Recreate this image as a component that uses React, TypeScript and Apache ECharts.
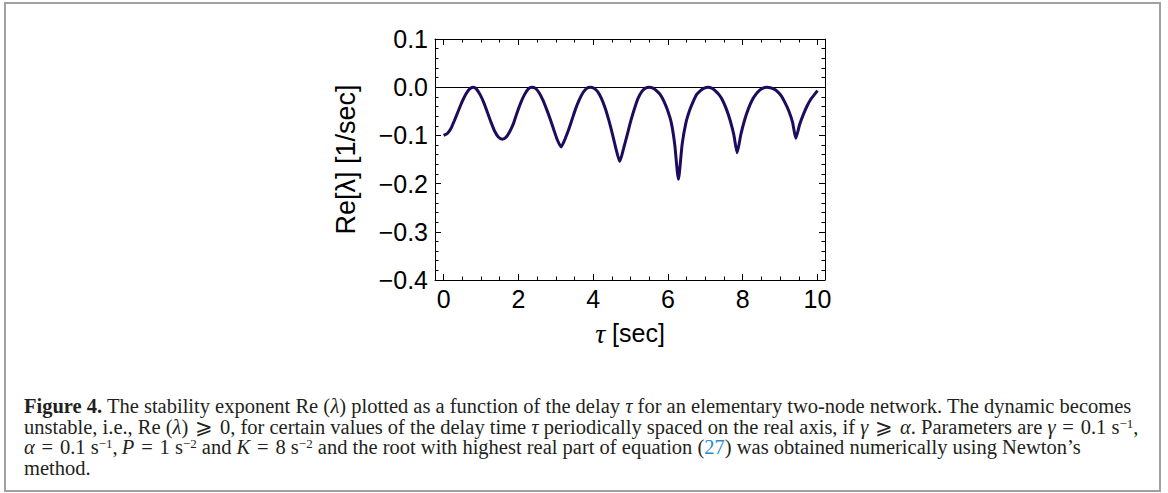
import React, { useEffect, useRef } from "react";
import * as echarts from "echarts";

// delay tau [sec]
const tau = [
  0.0, 0.1, 0.2, 0.29, 0.39, 0.49, 0.59, 0.69, 0.79,
  0.88, 0.98, 1.08, 1.18, 1.28, 1.37, 1.47, 1.57,
  1.67, 1.77, 1.87, 1.96, 2.06, 2.16, 2.26, 2.36,
  2.45, 2.55, 2.65, 2.75, 2.85, 2.95, 3.04, 3.14,
  3.24, 3.34, 3.44, 3.53, 3.63, 3.73, 3.83, 3.93,
  4.02, 4.12, 4.22, 4.32, 4.42, 4.52, 4.61, 4.71,
  4.81, 4.91, 5.01, 5.11, 5.2, 5.3, 5.4, 5.5,
  5.6, 5.69, 5.79, 5.89, 5.99, 6.09, 6.18, 6.28,
  6.38, 6.48, 6.58, 6.68, 6.77, 6.87, 6.97, 7.07,
  7.17, 7.26, 7.36, 7.46, 7.56, 7.66, 7.76, 7.85,
  7.95, 8.05, 8.15, 8.25, 8.35, 8.44, 8.54, 8.64,
  8.74, 8.84, 8.93, 9.03, 9.13, 9.23, 9.33, 9.42,
  9.52, 9.62, 9.72, 9.82, 9.92, 10.0,
];

// Re[lambda] [1/sec]
const reLambda = [
  -0.1, -0.096, -0.085, -0.069, -0.05, -0.031, -0.015, -0.004, 0.0,
  -0.004, -0.016, -0.033, -0.054, -0.075, -0.092, -0.104, -0.108,
  -0.104, -0.092, -0.075, -0.054, -0.033, -0.016, -0.004, 0.0,
  -0.002, -0.011, -0.026, -0.045, -0.066, -0.089, -0.109, -0.124,
  -0.109, -0.089, -0.066, -0.045, -0.026, -0.011, -0.002, 0.0,
  -0.002, -0.009, -0.023, -0.043, -0.069, -0.099, -0.128, -0.154,
  -0.128, -0.099, -0.069, -0.043, -0.023, -0.009, -0.002, 0.0,
  -0.002, -0.007, -0.015, -0.029, -0.048, -0.074, -0.118, -0.191,
  -0.118, -0.074, -0.048, -0.029, -0.015, -0.007, -0.002, 0.0,
  -0.002, -0.007, -0.015, -0.027, -0.045, -0.068, -0.098, -0.136,
  -0.098, -0.068, -0.045, -0.027, -0.015, -0.007, -0.002, 0.0,
  -0.001, -0.004, -0.009, -0.018, -0.032, -0.049, -0.072, -0.106,
  -0.078, -0.057, -0.039, -0.025, -0.015, -0.007,
];

const xRange = [-0.23, 10.2];
const yRange = [-0.4, 0.1];
const xTicks = [0, 2, 4, 6, 8, 10];
const xTickLabels = ["0", "2", "4", "6", "8", "10"];
const xMinorTicks = [
  0, 0.5, 1, 1.5, 2, 2.5, 3, 3.5, 4, 4.5, 5, 5.5, 6, 6.5, 7, 7.5, 8, 8.5, 9,
  9.5, 10,
];
const yTicks = [-0.4, -0.3, -0.2, -0.1, 0, 0.1];
const yTickLabels = ["\u22120.4", "\u22120.3", "\u22120.2", "\u22120.1", "0.0", "0.1"];
const yMinorTicks = [
  -0.4, -0.38, -0.36, -0.34, -0.32, -0.3, -0.28, -0.26, -0.24, -0.22, -0.2,
  -0.18, -0.16, -0.14, -0.12, -0.1, -0.08, -0.06, -0.04, -0.02, 0, 0.02, 0.04,
  0.06, 0.08, 0.1,
];
const zeroLine = [0];

const xTitle = "{t|\u03c4}{s| [sec]}";
const yTitle = "Re[\u03bb] [1/sec]";

const captionLines = [
  "{b|Figure 4.} The stability exponent Re ({i|\u03bb}) plotted as a function of the delay {i|\u03c4} for an elementary two-node network. The dynamic becomes",
  "unstable, i.e., Re ({i|\u03bb})\u2004\u2a7e\u20040, for certain values of the delay time {i|\u03c4} periodically spaced on the real axis, if {i|\u03b3}\u2004\u2a7e\u2004{i|\u03b1}. Parameters are {i|\u03b3}\u2004=\u20040.1 s{sup|\u22121},",
  "{i|\u03b1}\u2004=\u20040.1 s{sup|\u22121},\u2009{i|P}\u2004=\u20041 s{sup|\u22122} and {i|K}\u2004=\u20048 s{sup|\u22122} and the root with highest real part of equation ({a|27}) was obtained numerically using Newton\u2019s",
  "method.",
];

const LINE_COLOR = "#1e0b5e";
const AXIS_FONT = "Liberation Sans";
const CAP_FONT = "Liberation Serif";

function lookup(ticks: number[], labels: string[]) {
  return (v: number) => {
    const i = ticks.findIndex((t) => Math.abs(t - v) < 1e-6);
    return i >= 0 ? labels[i] : "";
  };
}

export default function App() {
  const ref = useRef<HTMLDivElement>(null);

  useEffect(() => {
    const chart = echarts.init(ref.current!, null, { renderer: "svg" });

    const line = { show: true, onZero: false, lineStyle: { color: "#000", width: 1 } };
    const noLine = { show: false, onZero: false };
    const tickStyle = { color: "#000", width: 1 };
    const labelStyle = { fontFamily: AXIS_FONT, fontSize: 25, color: "#000" };

    const mkX = (pos: string, major: boolean, labels: boolean) => ({
      type: "value",
      position: pos,
      min: xRange[0],
      max: xRange[1],
      axisLine: major ? line : noLine,
      axisTick: {
        show: true,
        inside: true,
        length: major ? 6 : 3.5,
        customValues: major ? xTicks : xMinorTicks,
        lineStyle: tickStyle,
      },
      axisLabel: labels
        ? {
            show: true,
            customValues: xTicks,
            formatter: lookup(xTicks, xTickLabels),
            margin: 6,
            ...labelStyle,
          }
        : { show: false },
      splitLine: { show: false },
      minorTick: { show: false },
    });
    const mkY = (pos: string, major: boolean, labels: boolean) => ({
      type: "value",
      position: pos,
      min: yRange[0],
      max: yRange[1],
      axisLine: major ? line : noLine,
      axisTick: {
        show: true,
        inside: true,
        length: major ? 6 : 3.5,
        customValues: major ? yTicks : yMinorTicks,
        lineStyle: tickStyle,
      },
      axisLabel: labels
        ? {
            show: true,
            customValues: yTicks,
            formatter: lookup(yTicks, yTickLabels),
            margin: 7,
            ...labelStyle,
          }
        : { show: false },
      splitLine: { show: false },
      minorTick: { show: false },
    });

    const capBase = { fontFamily: CAP_FONT, fontSize: 20.5, fill: "#231f20", lineHeight: 20 };
    const capRich = {
      b: { ...capBase, fontWeight: "bold" },
      i: { ...capBase, fontStyle: "italic" },
      a: { ...capBase, fill: "#2a8bc8" },
      sup: { fontFamily: CAP_FONT, fontSize: 13, fill: "#231f20", lineHeight: 12, verticalAlign: "top" },
    };
    const capY = [406, 426.5, 447, 467.5];

    const option = {
      animation: false,
      backgroundColor: "#fff",
      grid: { left: 435, top: 39, width: 390, height: 241, containLabel: false },
      xAxis: [
        mkX("bottom", true, true),
        mkX("bottom", false, false),
        mkX("top", true, false),
        mkX("top", false, false),
      ],
      yAxis: [
        mkY("left", true, true),
        mkY("left", false, false),
        mkY("right", true, false),
        mkY("right", false, false),
      ],
      series: [
        {
          type: "line",
          xAxisIndex: 0,
          yAxisIndex: 0,
          data: tau.map((t, i) => [t, reLambda[i]]),
          showSymbol: false,
          symbol: "none",
          smooth: 0.2,
          lineStyle: { color: LINE_COLOR, width: 3 },
          z: 3,
          markLine: {
            silent: true,
            symbol: ["none", "none"],
            label: { show: false },
            lineStyle: { color: "#000", width: 1, type: "solid" },
            data: zeroLine.map((v) => ({ yAxis: v })),
            z: 2,
          },
        },
      ],
      graphic: [
        {
          type: "rect",
          shape: { x: 5, y: 3, width: 1155, height: 488 },
          style: { fill: "none", stroke: "#a0a0a0", lineWidth: 2 },
          silent: true,
        },
        {
          type: "text",
          x: 346,
          y: 159.5,
          rotation: Math.PI / 2,
          style: {
            text: yTitle,
            fontFamily: AXIS_FONT,
            fontSize: 27,
            fill: "#000",
            textAlign: "center",
            textVerticalAlign: "middle",
          },
        },
        {
          type: "text",
          x: 630,
          y: 333,
          style: {
            text: xTitle,
            fontFamily: AXIS_FONT,
            fontSize: 25,
            fill: "#000",
            textAlign: "center",
            textVerticalAlign: "middle",
            rich: {
              t: { fontFamily: CAP_FONT, fontStyle: "italic", fontSize: 28, fill: "#000" },
              s: { fontFamily: AXIS_FONT, fontSize: 25, fill: "#000" },
            },
          },
        },
        ...captionLines.map((txt, k) => ({
          type: "text",
          x: 24,
          y: capY[k],
          style: {
            text: txt,
            ...capBase,
            textAlign: "left",
            textVerticalAlign: "middle",
            rich: capRich,
          },
        })),
      ],
    };

    chart.setOption(option as any);
    return () => chart.dispose();
  }, []);

  return (
    <div
      ref={ref}
      style={{ position: "absolute", left: 0, top: 0, width: 1168, height: 493, background: "#fff" }}
    />
  );
}
